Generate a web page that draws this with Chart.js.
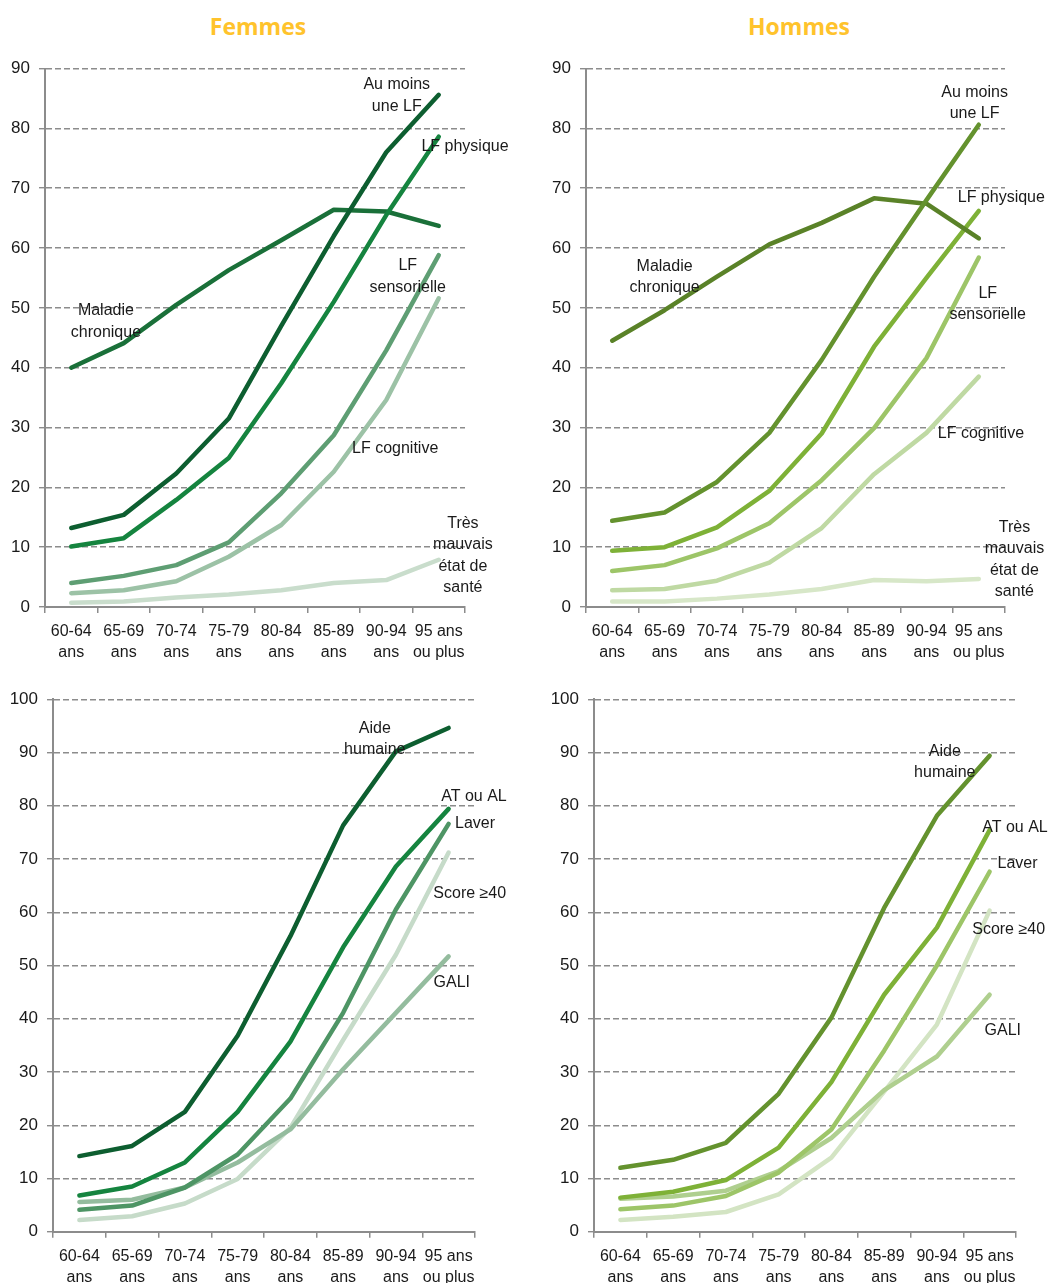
<!DOCTYPE html>
<html lang="fr">
<head>
<meta charset="UTF-8">
<title>Limitations fonctionnelles selon l'âge</title>
<script src="https://cdn.jsdelivr.net/npm/chart.js@4"></script>
<style>
  body { margin: 0; background: #fff; }
  #page { position: relative; width: 1049px; height: 1283px; overflow: hidden; background: #fff; }
  .panel { position: absolute; }
  .title { position: absolute; top: 10px; width: 200px; line-height: 30px; text-align: center;
           font: bold 23px 'Open Sans', sans-serif; color: #FFC32C; }
</style>
</head>
<body>
<div id="page">
  <div class="title" style="left:158px">Femmes</div>
  <div class="title" style="left:699px">Hommes</div>
  <div class="panel" style="left:0;top:40px;width:525px;height:640px"><canvas id="c1"></canvas></div>
  <div class="panel" style="left:525px;top:40px;width:524px;height:640px"><canvas id="c2"></canvas></div>
  <div class="panel" style="left:0;top:680px;width:525px;height:603px"><canvas id="c3"></canvas></div>
  <div class="panel" style="left:525px;top:680px;width:524px;height:603px"><canvas id="c4"></canvas></div>
</div>
<script>
// age groups (x axis)
const ages = [['60-64','ans'],['65-69','ans'],['70-74','ans'],['75-79','ans'],
              ['80-84','ans'],['85-89','ans'],['90-94','ans'],['95 ans','ou plus']];

// Femmes - haut
const fAuMoins  = [13.2, 15.4, 22.3, 31.5, 47.0, 62.0, 76.0, 85.6];
const fPhysique = [10.1, 11.5, 17.9, 24.9, 37.4, 51.0, 65.5, 78.6];
const fMaladie  = [40.0, 44.1, 50.5, 56.3, 61.3, 66.4, 66.1, 63.7];
const fSenso    = [4.0, 5.2, 7.0, 10.8, 19.0, 28.7, 42.9, 58.8];
const fCogn     = [2.3, 2.8, 4.3, 8.4, 13.7, 22.6, 34.6, 51.6];
const fSante    = [0.7, 0.9, 1.6, 2.1, 2.8, 4.0, 4.5, 7.9];

// Hommes - haut
const hAuMoins  = [14.4, 15.8, 20.9, 29.1, 41.3, 55.2, 68.0, 80.6];
const hMaladie  = [44.5, 49.6, 55.2, 60.6, 64.2, 68.3, 67.4, 61.6];
const hPhysique = [9.4, 10.0, 13.3, 19.4, 29.0, 43.5, 55.0, 66.2];
const hSenso    = [6.0, 7.0, 9.8, 14.0, 21.2, 29.9, 41.6, 58.4];
const hCogn     = [2.8, 3.0, 4.4, 7.4, 13.2, 22.2, 29.1, 38.5];
const hSante    = [0.9, 0.9, 1.4, 2.1, 3.0, 4.5, 4.3, 4.7];

// Femmes - bas
const fAide  = [14.2, 16.1, 22.5, 36.8, 55.5, 76.3, 90.2, 94.6];
const fAtAl  = [6.8, 8.5, 13.0, 22.5, 35.7, 53.4, 68.6, 79.4];
const fLaver = [4.1, 4.9, 8.3, 14.5, 25.0, 41.1, 60.5, 76.6];
const fScore = [2.2, 2.9, 5.3, 9.9, 19.5, 36.0, 52.0, 71.2];
const fGali  = [5.6, 6.0, 8.3, 13.0, 19.2, 30.5, 41.1, 51.7];

// Hommes - bas
const hAide  = [12.0, 13.5, 16.7, 25.9, 40.2, 60.8, 78.1, 89.4];
const hAtAl  = [6.4, 7.5, 9.7, 15.8, 28.1, 44.5, 57.1, 75.4];
const hLaver = [4.2, 4.9, 6.7, 11.1, 19.2, 34.0, 50.0, 67.6];
const hScore = [2.2, 2.8, 3.7, 7.0, 13.9, 26.3, 38.9, 60.3];
const hGali  = [6.2, 6.6, 7.7, 11.4, 17.6, 26.6, 32.9, 44.5];

// y axis tops
const yTicksTop = 90;
const yTicksBottom = 100;

// line labels: text lines, x as category index, y as value
const fTopNotes = [
  { text: ['Au moins', 'une LF'], x: 6.2, y: 85.5 },
  { text: ['LF physique'], x: 7.5, y: 77.0 },
  { text: ['LF', 'sensorielle'], x: 6.41, y: 55.2 },
  { text: ['Maladie', 'chronique'], x: 0.66, y: 47.7 },
  { text: ['LF cognitive'], x: 6.17, y: 26.4 },
  { text: ['Très', 'mauvais', 'état de', 'santé'], x: 7.46, y: 8.6 }
];
const hTopNotes = [
  { text: ['Au moins', 'une LF'], x: 6.92, y: 84.2 },
  { text: ['LF physique'], x: 7.43, y: 68.5 },
  { text: ['Maladie', 'chronique'], x: 1.0, y: 55.1 },
  { text: ['LF', 'sensorielle'], x: 7.17, y: 50.6 },
  { text: ['LF cognitive'], x: 7.04, y: 28.9 },
  { text: ['Très', 'mauvais', 'état de', 'santé'], x: 7.68, y: 7.9 }
];
const fBotNotes = [
  { text: ['Aide', 'humaine'], x: 5.6, y: 92.5 },
  { text: ['AT ou AL'], x: 7.48, y: 81.8 },
  { text: ['Laver'], x: 7.5, y: 76.7 },
  { text: ['Score \u226540'], x: 7.4, y: 63.5 },
  { text: ['GALI'], x: 7.06, y: 46.8 }
];
const hBotNotes = [
  { text: ['Aide', 'humaine'], x: 6.15, y: 88.2 },
  { text: ['AT ou AL'], x: 7.48, y: 75.9 },
  { text: ['Laver'], x: 7.53, y: 69.2 },
  { text: ['Score \u226540'], x: 7.36, y: 56.8 },
  { text: ['GALI'], x: 7.25, y: 37.7 }
];

const fam = "'Liberation Sans', Arial, sans-serif";
const axisGrey = '#8c8c8c';

const lineLabels = {
  id: 'lineLabels',
  afterDatasetsDraw(chart, args, opts) {
    const { ctx, scales: { x, y } } = chart;
    ctx.save();
    ctx.font = '16px ' + fam;
    ctx.fillStyle = '#1a1a1a';
    ctx.textAlign = 'center';
    ctx.textBaseline = 'middle';
    opts.items.forEach(it => {
      const px = x.getPixelForValue(it.x);
      const py = y.getPixelForValue(it.y);
      const n = it.text.length;
      it.text.forEach((t, i) => ctx.fillText(t, px, py + (i - (n - 1) / 2) * 21.5));
    });
    ctx.restore();
  }
};

function ds(data, color) {
  return { data, borderColor: color, backgroundColor: color, borderWidth: 4.5,
           pointRadius: 0, tension: 0, borderCapStyle: 'round', borderJoinStyle: 'round' };
}

// box = chart area inside the panel
function makeChart(id, W, H, box, yMax, datasets, notes) {
  new Chart(document.getElementById(id), {
    type: 'line',
    data: { labels: ages, datasets },
    plugins: [lineLabels],
    options: {
      responsive: true,
      maintainAspectRatio: false,
      animation: false,
      events: [],
      layout: { padding: { left: 0, top: box.top, right: W - box.right, bottom: 0 } },
      plugins: { legend: { display: false }, tooltip: { enabled: false }, lineLabels: { items: notes } },
      scales: {
        x: {
          offset: true,
          grid: { offset: true, drawOnChartArea: false, tickLength: 6, color: axisGrey, lineWidth: 1.5 },
          border: { color: axisGrey, width: 2 },
          ticks: { font: { family: fam, size: 16, lineHeight: 1.32 }, color: '#1a1a1a', padding: 8,
                   maxRotation: 0, autoSkip: false },
          afterFit: s => { s.height = H - box.bottom; }
        },
        y: {
          min: 0, max: yMax,
          ticks: { stepSize: 10, font: { family: fam, size: 17 }, color: '#1a1a1a', padding: 9 },
          grid: { color: axisGrey, lineWidth: 1.4, tickLength: 6 },
          border: { dash: [6, 3], color: axisGrey, width: 2 },
          afterFit: s => { s.width = box.left; }
        }
      }
    }
  });
}

makeChart('c1', 525, 640, { left: 45, top: 28.5, right: 465, bottom: 567 }, yTicksTop, [
  ds(fAuMoins, '#0D5E30'), ds(fPhysique, '#15843F'), ds(fMaladie, '#1A7039'),
  ds(fSenso, '#5E9E73'), ds(fCogn, '#9CC2A6'), ds(fSante, '#C9DDCC')
], fTopNotes);

makeChart('c2', 524, 640, { left: 61, top: 28.5, right: 480, bottom: 567 }, yTicksTop, [
  ds(hAuMoins, '#64922E'), ds(hMaladie, '#5A8228'), ds(hPhysique, '#7EB137'),
  ds(hSenso, '#9DC568'), ds(hCogn, '#BFD9A3'), ds(hSante, '#D7E7C8')
], hTopNotes);

makeChart('c3', 525, 603, { left: 53, top: 12, right: 475, bottom: 551.7 }, yTicksBottom, [
  ds(fAide, '#0D5E30'), ds(fAtAl, '#15843F'), ds(fLaver, '#4E9565'),
  ds(fGali, '#94BC9E'), ds(fScore, '#C6DBC9')
], fBotNotes);

makeChart('c4', 524, 603, { left: 69, top: 12, right: 491, bottom: 551.7 }, yTicksBottom, [
  ds(hAide, '#64922E'), ds(hAtAl, '#7EB137'), ds(hLaver, '#9DC568'),
  ds(hGali, '#AFCF8F'), ds(hScore, '#D3E4C3')
], hBotNotes);
</script>
</body>
</html>
